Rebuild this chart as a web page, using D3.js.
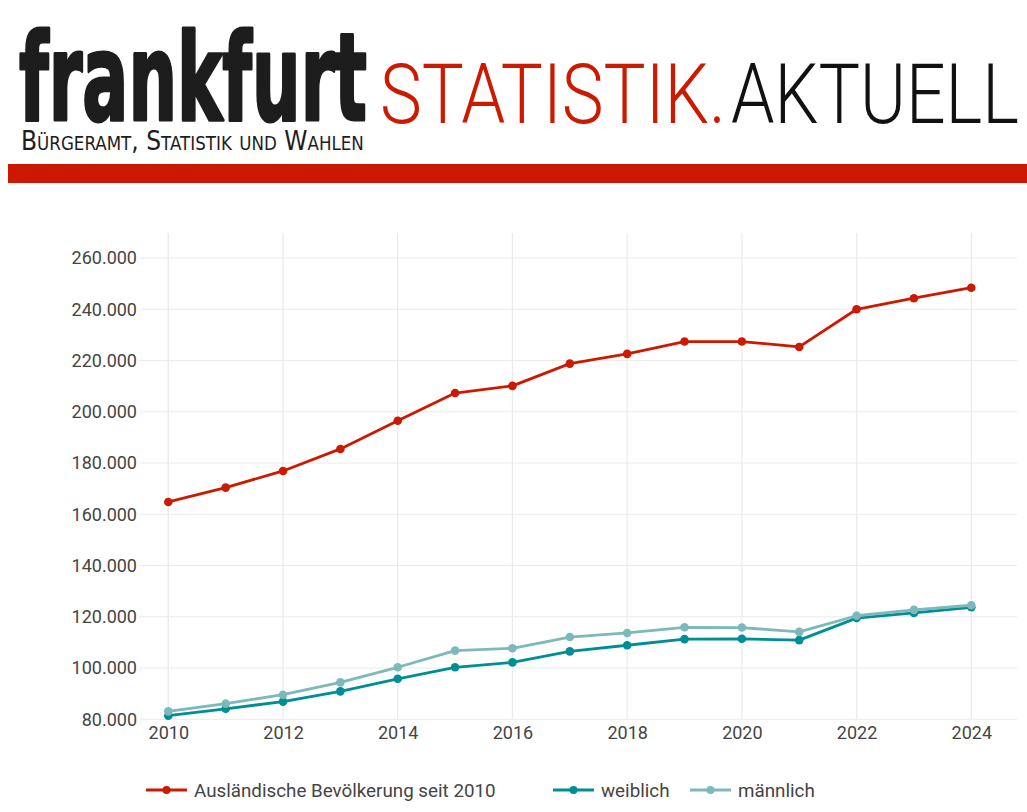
<!DOCTYPE html>
<html>
<head>
<meta charset="utf-8">
<script src="https://cdn.jsdelivr.net/npm/d3@7"></script>
<style>
  html, body { margin: 0; padding: 0; background: #fff; }
  svg { display: block; }
</style>
</head>
<body>
<svg id="chart" width="1027" height="812"></svg>
<script>
// ---- Data ----
const years = [2010, 2011, 2012, 2013, 2014, 2015, 2016, 2017, 2018, 2019, 2020, 2021, 2022, 2023, 2024];
const gesamt = [164800, 170400, 176900, 185500, 196500, 207300, 210100, 218800, 222600, 227400, 227400, 225300, 240000, 244300, 248400];
const weiblich = [81400, 84100, 86900, 90900, 95800, 100300, 102200, 106500, 108900, 111300, 111400, 110900, 119500, 121500, 123700];
const maennlich = [83100, 86100, 89600, 94400, 100300, 106800, 107700, 112100, 113700, 115900, 115800, 114100, 120400, 122700, 124500];
const seriesNames = ["Ausländische Bevölkerung seit 2010", "weiblich", "männlich"];
const yTicks = [80000, 100000, 120000, 140000, 160000, 180000, 200000, 220000, 240000, 260000];
const xTicks = [2010, 2012, 2014, 2016, 2018, 2020, 2022, 2024];

// ---- Styles / layout ----
const RED = "#cc1a00";
const TEAL = "#008e96";
const LTEAL = "#7db8bb";
const TEXT = "#444";
const GRID = "#ebebeb";

const svg = d3.select("#chart");

// fit a text horizontally into a given width with a scale transform
function fitText(sel, x0, y0, width, sy) {
  const w = sel.node().getComputedTextLength();
  sel.attr("x", 0).attr("y", 0)
    .attr("transform", `translate(${x0},${y0}) scale(${width / w},${sy || 1})`);
  return sel;
}

// ---- Header ----
fitText(svg.append("text")
  .attr("font-family", "'DejaVu Sans Condensed', 'DejaVu Sans', sans-serif")
  .attr("font-weight", "bold")
  .attr("font-size", 100)
  .attr("fill", "#1d1d1d")
  .attr("stroke", "#1d1d1d")
  .attr("stroke-width", 2.5)
  .attr("stroke-linejoin", "round")
  .text("frankfurt"), 19, 120, 348, 1.22);

fitText(svg.append("text")
  .attr("font-family", "'DejaVu Sans', sans-serif")
  .attr("font-size", 27)
  .style("font-variant", "small-caps")
  .attr("fill", "#1d1d1d")
  .text("Bürgeramt, Statistik und Wahlen"), 21, 150, 340);

fitText(svg.append("text")
  .attr("font-family", "Roboto, sans-serif")
  .attr("font-weight", 300)
  .attr("font-size", 83)
  .attr("fill", RED)
  .text("STATISTIK."), 380, 123, 346);

fitText(svg.append("text")
  .attr("font-family", "Roboto, sans-serif")
  .attr("font-weight", 300)
  .attr("font-size", 83)
  .attr("fill", "#111")
  .text("AKTUELL"), 731, 123, 288);

svg.append("rect")
  .attr("x", 8).attr("y", 164).attr("width", 1019).attr("height", 19)
  .attr("fill", "#cc1800");

// ---- Scales ----
const x = d3.scaleLinear().domain([2010, 2024]).range([168.3, 971.3]);
const y = d3.scaleLinear().domain([80000, 260000]).range([719.3, 258]);
const plotLeft = 140, plotRight = 1017, plotTop = 233, plotBottom = 719.3;

const de = d3.formatLocale({ decimal: ",", thousands: ".", grouping: [3], currency: ["", " €"] });
const fmt = de.format(",");

// ---- Grid ----
const grid = svg.append("g");
grid.selectAll("line.h").data(yTicks).join("line")
  .attr("x1", plotLeft).attr("x2", plotRight)
  .attr("y1", d => y(d)).attr("y2", d => y(d))
  .attr("stroke", GRID).attr("stroke-width", 1);
grid.selectAll("line.v").data(xTicks).join("line")
  .attr("y1", plotTop).attr("y2", plotBottom)
  .attr("x1", d => x(d)).attr("x2", d => x(d))
  .attr("stroke", GRID).attr("stroke-width", 1.3);

// ---- Axes ----
const yAxis = d3.axisLeft(y).tickValues(yTicks).tickFormat(fmt).tickSize(0).tickPadding(0);
svg.append("g").attr("transform", "translate(137,0)").call(yAxis)
  .call(g => g.select(".domain").remove())
  .call(g => g.selectAll("text")
    .attr("font-family", "Roboto, sans-serif").attr("font-size", 18).attr("fill", TEXT));

const xAxis = d3.axisBottom(x).tickValues(xTicks).tickFormat(d3.format("d")).tickSize(0).tickPadding(0);
svg.append("g").attr("transform", "translate(0,726)").call(xAxis)
  .call(g => g.select(".domain").remove())
  .call(g => g.selectAll("text")
    .attr("font-family", "Roboto, sans-serif").attr("font-size", 18).attr("fill", TEXT).attr("dy", "0.72em"));

// ---- Series ----
const series = [
  { name: seriesNames[0], values: gesamt, color: RED },
  { name: seriesNames[1], values: weiblich, color: TEAL },
  { name: seriesNames[2], values: maennlich, color: LTEAL }
];

const line = d3.line().x((d, i) => x(years[i])).y(d => y(d));

series.forEach(s => {
  const g = svg.append("g");
  g.append("path")
    .attr("d", line(s.values))
    .attr("fill", "none")
    .attr("stroke", s.color)
    .attr("stroke-width", 2.8)
    .attr("stroke-linejoin", "round");
  g.selectAll("circle").data(s.values).join("circle")
    .attr("cx", (d, i) => x(years[i]))
    .attr("cy", d => y(d))
    .attr("r", 4.3)
    .attr("fill", s.color);
});

// ---- Legend ----
const legendX = [146, 553, 690];
const legendY = 790;
series.forEach((s, i) => {
  const g = svg.append("g").attr("transform", `translate(${legendX[i]},${legendY})`);
  g.append("line").attr("x1", 0).attr("x2", 41).attr("y1", 0).attr("y2", 0)
    .attr("stroke", s.color).attr("stroke-width", 3);
  g.append("circle").attr("cx", 20.5).attr("cy", 0).attr("r", 4).attr("fill", s.color);
  g.append("text").attr("x", 48).attr("y", 0).attr("dy", "0.36em")
    .attr("font-family", "Roboto, sans-serif").attr("font-size", 18.8).attr("fill", TEXT)
    .text(s.name);
});
</script>
</body>
</html>
